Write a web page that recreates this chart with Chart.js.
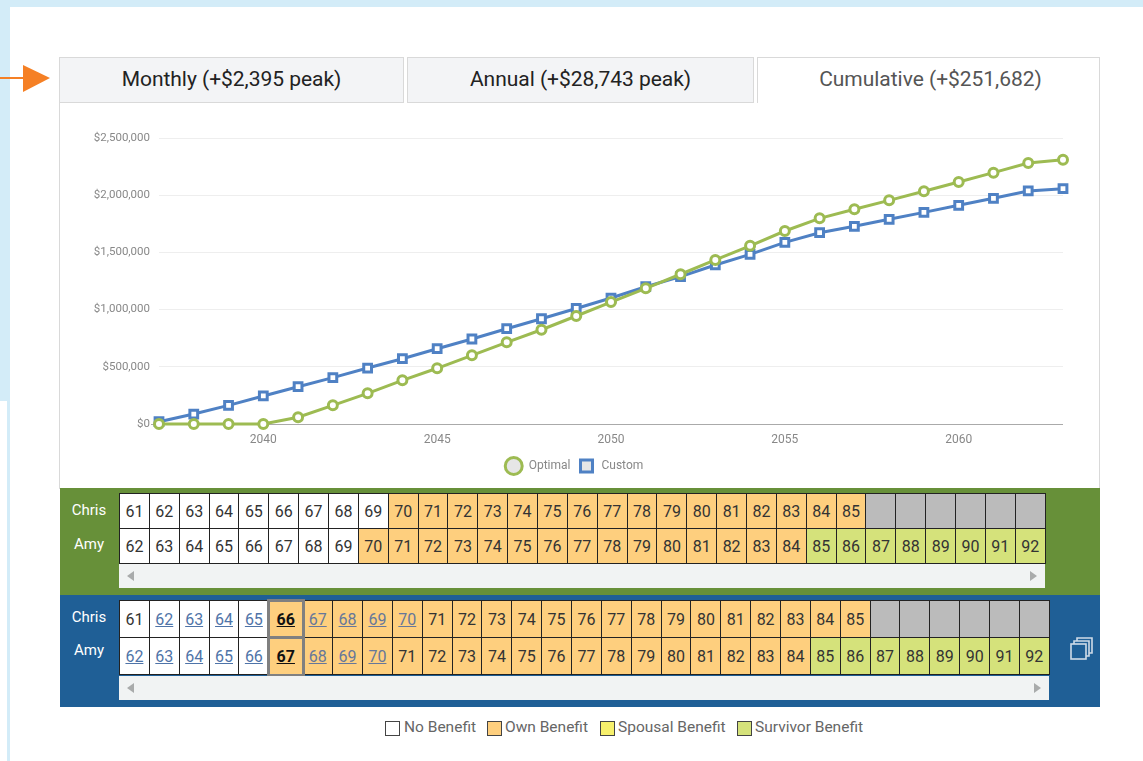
<!DOCTYPE html>
<html>
<head>
<meta charset="utf-8">
<title>Cumulative benefit</title>
<script src="https://cdn.jsdelivr.net/npm/chart.js@4"></script>
<style>
html, body { margin: 0; padding: 0; background: #fff; overflow: hidden; }
body { width: 1143px; height: 761px; position: relative; font-family: Roboto, sans-serif; }
.abs { position: absolute; }
.tab { box-sizing: border-box; height: 46px; top: 57px; background: #f3f4f6; border: 1px solid #d9d9d9;
    font-size: 21px; letter-spacing: -0.03px; line-height: 43px; text-align: center; color: #222; }
.tab.active { background: #fff; color: #555; border-bottom: none; }
table.ages { position: absolute; border-collapse: collapse; table-layout: fixed; }
table.ages td { border: 1px solid #222; padding: 0; text-align: center; font-size: 16px; color: #333; }
td.none { background: #fff; }
td.own { background: #fecf7e; }
td.survivor { background: #d5e27b; }
td.gone { background: #bbb; }
td.link { color: #4f74a8 !important; text-decoration: underline; }
td.own.link { color: #66779a !important; }
td.picked { font-weight: bold; color: #111 !important; text-decoration: underline; outline: 3px solid #808080; outline-offset: -1px; position: relative; }
.name { color: #fff; font-size: 15px; width: 60px; text-align: center; left: 59px; }
.scroll { background: #f1f3f3; height: 24px; }
.tri { width: 0; height: 0; border-top: 5px solid transparent; border-bottom: 5px solid transparent; }
.key { top: 721px; width: 13px; height: 13px; border: 1px solid #444; }
.keytext { top: 718px; font-size: 15.5px; color: #666; line-height: 18px; white-space: nowrap; }
</style>
</head>
<body>
<div class="abs" style="left:0;top:0;width:1143px;height:7px;background:#d3ecf8"></div>
<div class="abs" style="left:0;top:0;width:10px;height:401px;background:#d3ecf8"></div>
<div class="abs" style="left:7px;top:401px;width:3px;height:360px;background:#d3ecf8"></div>

<div class="abs" style="left:0;top:77px;width:24px;height:2px;background:#f58025"></div>
<svg class="abs" style="left:22px;top:64px" width="30" height="30"><polygon points="1,1 28,14 1,28" fill="#f58025"/></svg>

<div class="abs" style="left:59px;top:102px;width:1041px;height:387px;box-sizing:border-box;border:1px solid #d9d9d9;border-top:none"></div>
<div class="abs tab" style="left:59px;width:345px">Monthly (+$2,395 peak)</div>
<div class="abs tab" style="left:407px;width:347px">Annual (+$28,743 peak)</div>
<div class="abs tab active" style="left:757px;width:343px;padding-left:4px">Cumulative (+$251,682)</div>

<div class="abs" style="left:60px;top:103px;width:1040px;height:385px"><canvas id="growthChart"></canvas></div>

<div class="abs" style="left:60px;top:488px;width:1040px;height:107px;background:#679039"></div>
<div class="abs" style="left:60px;top:595px;width:1040px;height:112px;background:#1f5f96"></div>

<div class="abs name" style="top:501px">Chris</div>
<div class="abs name" style="top:535px">Amy</div>
<div class="abs name" style="top:608px">Chris</div>
<div class="abs name" style="top:641px">Amy</div>

<div id="optimalGrid"></div>
<div id="customGrid"></div>

<div class="abs scroll" style="left:119px;top:564px;width:926px"></div>
<div class="abs tri" style="left:127px;top:571px;border-right:7px solid #a9abab"></div>
<div class="abs tri" style="left:1030px;top:571px;border-left:7px solid #a9abab"></div>
<div class="abs scroll" style="left:119px;top:676px;width:930px"></div>
<div class="abs tri" style="left:127px;top:683px;border-right:7px solid #a9abab"></div>
<div class="abs tri" style="left:1034px;top:683px;border-left:7px solid #a9abab"></div>

<svg class="abs" style="left:1069px;top:636px" width="26" height="26" fill="none" stroke="#cfdbe8" stroke-width="1.6">
    <rect x="2" y="8" width="15" height="15"/>
    <path d="M5 8 V5 H20 V20 H17"/>
    <path d="M8 5 V2 H23 V17 H20"/>
</svg>

<div class="abs key" style="left:385px;background:#fff"></div><div class="abs keytext" style="left:404px">No Benefit</div>
<div class="abs key" style="left:487px;background:#fecf7e"></div><div class="abs keytext" style="left:505px">Own Benefit</div>
<div class="abs key" style="left:600px;background:#f7f06c"></div><div class="abs keytext" style="left:618px">Spousal Benefit</div>
<div class="abs key" style="left:737px;background:#d5e27b"></div><div class="abs keytext" style="left:755px">Survivor Benefit</div>

<script>
// Chart data
const years = [2037, 2038, 2039, 2040, 2041, 2042, 2043, 2044, 2045, 2046, 2047, 2048, 2049, 2050,
    2051, 2052, 2053, 2054, 2055, 2056, 2057, 2058, 2059, 2060, 2061, 2062, 2063];
const optimalValues = [0, 0, 0, 0, 59000, 163000, 268000, 382000, 487000, 600000, 714000, 824000, 944000, 1066000,
    1186000, 1309000, 1434000, 1558000, 1687000, 1798000, 1877000, 1955000, 2034000, 2115000, 2197000, 2281000, 2310000];
const customValues = [20000, 87000, 163000, 245000, 326000, 405000, 489000, 571000, 658000, 743000, 833000, 920000, 1010000, 1101000,
    1200000, 1288000, 1390000, 1483000, 1588000, 1672000, 1728000, 1789000, 1850000, 1912000, 1973000, 2037000, 2057000];
const yTicks = [0, 500000, 1000000, 1500000, 2000000, 2500000];

// Age strips
const chrisAges = [61, 62, 63, 64, 65, 66, 67, 68, 69, 70, 71, 72, 73, 74, 75, 76, 77, 78, 79, 80, 81, 82, 83, 84, 85, null, null, null, null, null, null];
const amyAges = [62, 63, 64, 65, 66, 67, 68, 69, 70, 71, 72, 73, 74, 75, 76, 77, 78, 79, 80, 81, 82, 83, 84, 85, 86, 87, 88, 89, 90, 91, 92];
const survivorFromAmy = 85;

function cellClass(age, startAge, isAmy) {
    if (age === null) return 'gone';
    if (isAmy && age >= survivorFromAmy) return 'survivor';
    return age >= startAge ? 'own' : 'none';
}

function buildGrid(holder, left, top, cellW, rowH, chrisStart, amyStart, linkTo) {
    const table = document.createElement('table');
    table.className = 'ages';
    table.style.left = left + 'px';
    table.style.top = top + 'px';
    [[chrisAges, chrisStart, false], [amyAges, amyStart, true]].forEach(([ages, startAge, isAmy]) => {
        const row = table.insertRow();
        ages.forEach(age => {
            const cell = row.insertCell();
            // the picked column in the custom strip is a little wider
            const wide = linkTo && age === startAge;
            cell.style.width = (wide ? 33 : cellW - 1) + 'px';
            cell.style.height = (rowH - 1) + 'px';
            cell.className = cellClass(age, startAge, isAmy);
            if (age !== null) cell.textContent = age;
            if (linkTo && age !== null) {
                if (age === startAge) cell.classList.add('picked');
                else if (age <= linkTo && age !== 61) cell.classList.add('link');
            }
        });
    });
    holder.appendChild(table);
}

buildGrid(document.getElementById('optimalGrid'), 119, 493, 29.87, 35, 70, 70, 0);
buildGrid(document.getElementById('customGrid'), 119, 600, 29.87, 37, 66, 67, 70);

const green = '#9dbb52';
const blue = '#4f81c4';

new Chart(document.getElementById('growthChart'), {
    type: 'line',
    data: {
        labels: years,
        datasets: [{
            label: 'Optimal',
            data: optimalValues,
            borderColor: green,
            backgroundColor: '#ffffff',
            pointBackgroundColor: '#ffffff',
            pointBorderColor: green,
            pointStyle: 'circle',
            pointRadius: 4.5,
            pointBorderWidth: 3,
            borderWidth: 3,
            tension: 0,
            clip: false
        }, {
            label: 'Custom',
            data: customValues,
            borderColor: blue,
            backgroundColor: '#ffffff',
            pointBackgroundColor: '#ffffff',
            pointBorderColor: blue,
            pointStyle: 'rect',
            pointRadius: 5.5,
            pointBorderWidth: 3,
            borderWidth: 3,
            tension: 0,
            clip: false
        }]
    },
    options: {
        responsive: true,
        maintainAspectRatio: false,
        animation: false,
        layout: { padding: { top: 35, right: 37, bottom: 6, left: 28 } },
        scales: {
            x: {
                grid: { display: false },
                border: { display: false },
                ticks: {
                    autoSkip: false,
                    maxRotation: 0,
                    padding: 1,
                    color: '#888',
                    font: { family: 'Roboto', size: 12 },
                    callback: function (value) {
                        const year = years[value];
                        return year % 5 === 0 ? String(year) : '';
                    }
                },
                afterFit: scale => { scale.height = 26; }
            },
            y: {
                min: 0,
                max: 2500000,
                afterBuildTicks: scale => { scale.ticks = yTicks.map(value => ({ value })); },
                border: { display: false },
                grid: {
                    color: ctx => ctx.tick && ctx.tick.value === 0 ? '#aaaaaa' : '#eeeeee',
                    tickColor: ctx => ctx.tick && ctx.tick.value === 0 ? '#aaaaaa' : 'rgba(0,0,0,0)',
                    tickLength: 8
                },
                ticks: {
                    padding: 1,
                    color: '#888',
                    font: { family: 'Roboto', size: 11.5 },
                    callback: value => '$' + value.toLocaleString('en-US')
                },
                afterFit: scale => { scale.width = 71; }
            }
        },
        plugins: {
            tooltip: { enabled: false },
            legend: {
                position: 'bottom',
                labels: {
                    usePointStyle: true,
                    boxHeight: 12,
                    padding: 10,
                    color: '#888',
                    font: { family: 'Roboto', size: 12 },
                    generateLabels: chart => Chart.defaults.plugins.legend.labels.generateLabels(chart).map(item => ({
                        ...item,
                        text: ' ' + item.text,
                        fillStyle: '#e6e6e6',
                        lineWidth: 3
                    }))
                }
            }
        }
    }
});
</script>
</body>
</html>
